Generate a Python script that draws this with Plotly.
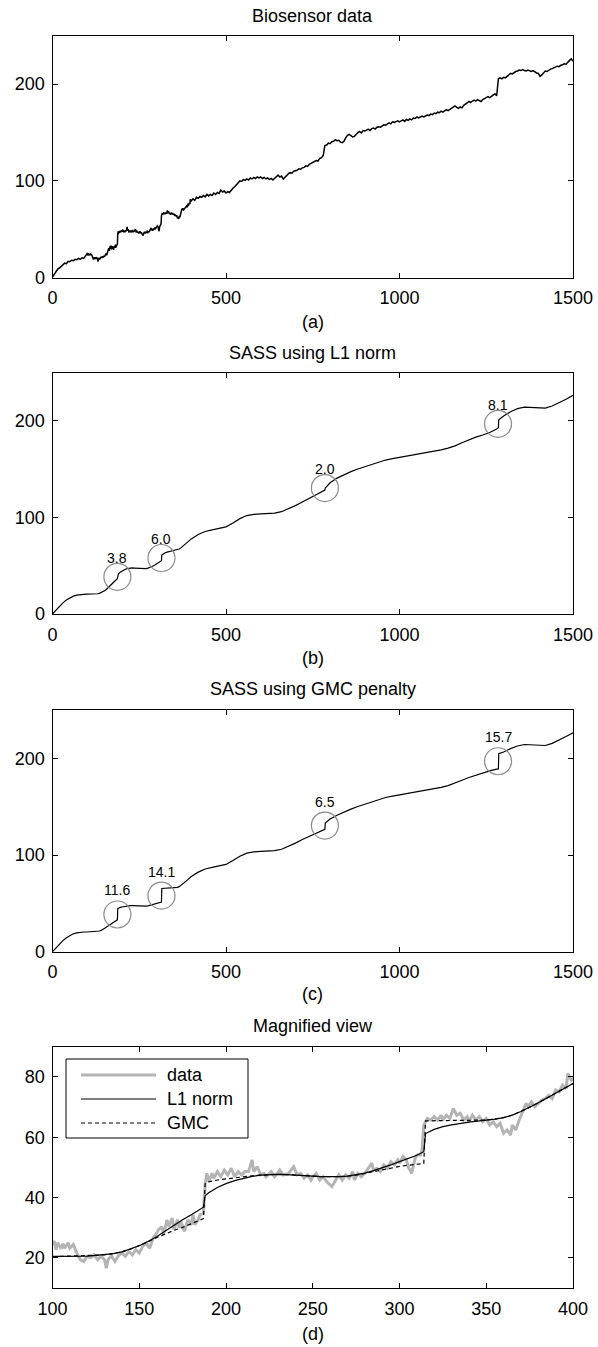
import plotly.graph_objects as go

# ------------------------------------------------------------------ data
# raw biosensor signal, x = 0..95 (step 5)
raw_head = [0.5, 3, 6, 9, 10, 12, 13.5, 15, 14.5, 17,
            16.5, 18, 17.5, 19, 18.5, 20, 19, 20.5, 20, 22]

# raw signal in the magnified range 100..400
raw_mid_x = [100, 101, 102, 103, 105, 106, 107, 109, 110, 112,
             114, 116, 118, 120, 122, 124, 126, 128, 130, 131,
             132, 134, 136, 138, 140, 142, 144, 146, 148, 150,
             152, 154, 156, 158, 160, 161, 163, 164, 166, 167,
             169, 170, 172, 173, 174, 176, 178, 180, 181, 182,
             184, 185, 187, 188, 189, 190, 192, 193, 195, 197,
             199, 201, 203, 205, 207, 209, 211, 213, 215, 216,
             218, 220, 222, 223, 226, 228, 231, 233, 236, 239,
             241, 243, 245, 247, 249, 250, 252, 254, 256, 258,
             261, 263, 265, 267, 269, 271, 273, 274, 276, 278,
             280, 282, 284, 285, 287, 289, 291, 293, 295, 297,
             299, 300, 302, 304, 305, 307, 309, 310, 312, 313,
             314, 316, 318, 320, 322, 324, 325, 327, 329, 331,
             333, 335, 337, 339, 340, 342, 344, 346, 348, 350,
             352, 354, 356, 358, 360, 362, 364, 365, 367, 369,
             371, 373, 374, 376, 378, 380, 382, 384, 386, 388,
             390, 392, 394, 396, 397, 399, 400]
raw_mid_y = [24.7, 25.5, 22.7, 25, 23, 24.7, 23.2, 25, 23.2, 24.4,
             21.6, 19.4, 18.8, 20.5, 20, 21, 19.4, 20.5, 19.4, 16.6,
             19.4, 20.7, 18.8, 20.7, 21.6, 20.5, 22.1, 21, 22.7, 21.6,
             23.8, 24.9, 23.2, 26.6, 28.2, 29.3, 30.4, 27.7, 32.6, 30.4,
             33.2, 29.3, 32.6, 29.9, 32, 28.8, 32.6, 31, 34.3, 31,
             32.6, 34.3, 34.8, 44.7, 48, 45.3, 48, 46.4, 48.6, 46.9,
             49.1, 47.5, 49.7, 46.9, 48.6, 47.5, 48.6, 48.6, 52.5, 48.6,
             50.2, 47.5, 48, 46.9, 48.6, 46.9, 49.1, 47.5, 48, 50.2,
             47.5, 48, 46.4, 47.5, 45.8, 46.9, 48, 45.8, 46.9, 45.3,
             43.6, 45.8, 47.5, 45.8, 47.5, 46.4, 48.6, 45.8, 48, 46.9,
             48, 49.7, 51.4, 49.1, 49.7, 48.6, 50.8, 49.7, 51.9, 50.8,
             52.5, 51.4, 53.6, 52.5, 50.2, 48, 53, 54.1, 54.1, 55.8,
             64, 66.2, 65.7, 66.8, 65.7, 67.3, 65.7, 67.3, 66.2, 69.5,
             67.3, 67.9, 65.7, 66.8, 65.1, 67.3, 65.7, 66.8, 65.1, 66.2,
             64, 65.1, 63.5, 64.6, 61.3, 62.4, 60.7, 64, 62.4, 65.7,
             68.4, 71.2, 70.1, 71.7, 70.1, 71.2, 72.3, 72.8, 73.9, 72.8,
             75.6, 75, 77.2, 76.1, 81.1, 78.9, 79.4]

# raw signal, x = 405..1500 (step 5)
raw_tail = [81.5, 80, 83, 82, 84, 83, 85, 83.5, 86, 84.5,
            86, 85, 87.5, 86, 88, 87, 90.5, 88.5, 89.5, 87.5,
            89, 88, 91, 92.5, 94, 96, 98.5, 100, 99.5, 101.5,
            100.5, 102, 101, 103, 102, 103.5, 102.5, 104, 103, 104,
            102.5, 103.5, 102, 103, 101.5, 102.5, 101, 103, 104.5, 106,
            104, 105, 102, 104, 106, 107.5, 108.5, 108, 110, 110.5,
            111, 112.5, 112, 113.5, 114, 115.5, 115, 117, 118, 118.5,
            120, 121, 120.5, 123, 124, 126, 136.5, 137, 139, 138.5,
            140.5, 141, 142.5, 141.5, 142, 140, 139.5, 141, 144.5, 147,
            148, 146.5, 145.5, 146, 148.5, 150, 151, 149.5, 152, 151.5,
            152.5, 153.5, 152, 154, 154.5, 153.5, 155.5, 156, 155.5, 157,
            158, 157.5, 159, 160, 159, 161, 160.5, 161.5, 162, 161,
            162.5, 163, 161.5, 163.5, 162.5, 164, 163, 165, 164.5, 166,
            165, 166.5, 167, 166, 167.5, 168, 167.5, 169, 168.5, 170,
            169.5, 171, 170.5, 172, 171, 172.5, 173.5, 172.5, 174, 174.5,
            176, 177.5, 176, 175, 176.5, 175.5, 178, 179, 180.5, 182,
            181, 182.5, 183.5, 182.5, 184, 183, 182, 184, 185, 186,
            187, 186, 187.5, 188.5, 190, 188, 205.5, 206.5, 205.5, 207,
            206.5, 208, 210, 211, 210.5, 212, 213, 213.5, 214.5, 214,
            215, 214, 213.5, 214.5, 213.5, 213, 214, 212.5, 211.5, 211,
            208, 209.5, 212, 213.5, 213, 214.5, 215.5, 216, 217, 217.5,
            218.5, 218, 219.5, 220, 221, 220.5, 223, 224.5, 226, 223.5]

data_x = (list(range(0, 5 * len(raw_head), 5)) + raw_mid_x
          + list(range(405, 405 + 5 * len(raw_tail), 5)))
data_y = raw_head + raw_mid_y + raw_tail

# SASS estimates (L1 norm and GMC penalty)
fit_x = [0, 10, 20, 30, 40, 50, 60, 70, 80, 90,
         100, 105, 110, 115, 120, 125, 130, 135, 140, 145,
         150, 155, 160, 165, 170, 175, 180, 185, 187, 188,
         190, 195, 200, 205, 210, 215, 220, 225, 230, 235,
         240, 245, 250, 255, 260, 265, 270, 275, 280, 285,
         290, 295, 300, 305, 310, 314, 315, 320, 325, 330,
         335, 340, 345, 350, 355, 360, 365, 370, 375, 380,
         385, 390, 395, 400, 420, 440, 460, 480, 500, 520,
         540, 560, 580, 600, 620, 640, 660, 680, 700, 720,
         740, 760, 780, 785, 786, 800, 820, 840, 860, 880,
         900, 920, 940, 960, 980, 1000, 1020, 1040, 1060, 1080,
         1100, 1120, 1140, 1160, 1180, 1200, 1220, 1240, 1260, 1280,
         1285, 1286, 1300, 1320, 1340, 1360, 1380, 1400, 1420, 1440,
         1460, 1480, 1500]
l1_y = [0, 4, 8, 11.5, 14.5, 16.8, 18.5, 19.5, 20.1, 20.4,
        20.5, 20.5, 20.6, 20.6, 20.6, 20.8, 21, 21.4, 22, 22.9,
        24, 25.4, 27, 28.9, 30.8, 32.6, 34.3, 36, 36.8, 40.6,
        41.6, 43.3, 44.6, 45.6, 46.4, 47, 47.4, 47.6, 47.7, 47.6,
        47.5, 47.3, 47.1, 46.9, 46.8, 46.9, 47.1, 47.5, 48.1, 48.9,
        49.8, 50.8, 51.9, 52.9, 54, 55.2, 61.2, 62.6, 63.5, 64.1,
        64.6, 65, 65.3, 65.6, 66, 66.5, 67.3, 68.5, 69.9, 71.4,
        73, 74.6, 76.2, 77.8, 82.3, 85.5, 87.2, 88.5, 90.3, 94.3,
        98.8, 102, 103.3, 103.7, 103.9, 104.5, 106, 108.8, 112.3, 116,
        119.7, 123.4, 127.2, 128.4, 130.4, 136, 140.8, 144.4, 147.5, 150.2,
        152.7, 155.2, 157.5, 159.5, 161, 162.2, 163.4, 164.6, 165.8, 167.1,
        168.5, 170, 171.8, 174.2, 177.5, 180.5, 183.2, 185.5, 188, 191.6,
        193, 201.1, 205.2, 209.6, 212.8, 214.3, 214, 213, 213.3, 215.5,
        218.8, 222.5, 226.5]
gmc_y = [0, 4, 8, 11.5, 14.5, 16.8, 18.5, 19.5, 20.1, 20.4,
         20.4, 20.5, 20.5, 20.6, 20.6, 20.8, 21, 21.4, 22, 22.9,
         24, 25.3, 26.7, 28, 29.1, 30.1, 31.2, 32.5, 33, 44.6,
         45.2, 45.8, 46.2, 46.6, 47, 47.2, 47.4, 47.6, 47.7, 47.6,
         47.5, 47.3, 47.1, 46.9, 46.8, 46.9, 47.1, 47.4, 48, 48.6,
         49.2, 49.8, 50.3, 50.7, 51, 51.3, 65.4, 65.5, 65.5, 65.6,
         65.6, 65.6, 65.6, 65.7, 66, 66.5, 67.3, 68.5, 69.9, 71.4,
         73, 74.6, 76.2, 77.8, 82.3, 85.5, 87.2, 88.5, 90.3, 94.3,
         98.8, 102, 103.3, 103.7, 103.9, 104.5, 106, 108.8, 112.3, 116,
         119.4, 122.6, 125.8, 126.6, 133.1, 137.3, 141.2, 144.5, 147.5, 150.2,
         152.7, 155.2, 157.5, 159.5, 161, 162.2, 163.4, 164.6, 165.8, 167.1,
         168.5, 170, 171.8, 174.2, 177.3, 180.2, 182.7, 184.9, 187, 188.8,
         189.1, 204.8, 206.6, 210, 212.8, 214.3, 214, 213, 213.3, 215.5,
         218.8, 222.5, 226.5]

# detected jumps (circled) and their sizes
jump_x = [187, 314, 785, 1284]
jump_y = [38.5, 58, 130.5, 197]
l1_jump = [3.8, 6.0, 2.0, 8.1]
gmc_jump = [11.6, 14.1, 6.5, 15.7]

titles = ["Biosensor data", "SASS using L1 norm", "SASS using GMC penalty", "Magnified view"]
sublabels = ["(a)", "(b)", "(c)", "(d)"]
legend_names = ["data", "L1 norm", "GMC"]

# ------------------------------------------------------------------ layout constants
W, H = 598, 1347
FONT = "Liberation Sans, Arial, Helvetica, sans-serif"
X0, X1 = 52.5, 573.0
boxes = [(35.7, 277.7), (372.7, 614.0), (710.0, 951.7), (1046.7, 1288.0)]
title_y = [16, 353, 689, 1026]
sub_y = [322, 658, 994, 1334]
GRAY = "#b4b4b4"
CIRC = "#8a8a8a"
TICK_SIZE = 18
TEXT_SIZE = 18


def px_y(p):
    return (H - p) / H


def px_x(p):
    return p / W


fig = go.Figure()

# (a) raw data
fig.add_trace(go.Scatter(x=data_x, y=data_y, mode="lines",
                         line=dict(color="black", width=1.5),
                         xaxis="x", yaxis="y", showlegend=False))
# (b) L1
fig.add_trace(go.Scatter(x=fit_x, y=l1_y, mode="lines",
                         line=dict(color="black", width=1.2),
                         xaxis="x2", yaxis="y2", showlegend=False))
fig.add_trace(go.Scatter(x=jump_x, y=jump_y, mode="markers",
                         marker=dict(symbol="circle-open", size=27,
                                     line=dict(color=CIRC, width=1.2), color=CIRC),
                         xaxis="x2", yaxis="y2", showlegend=False, cliponaxis=False))
# (c) GMC
fig.add_trace(go.Scatter(x=fit_x, y=gmc_y, mode="lines",
                         line=dict(color="black", width=1.2),
                         xaxis="x3", yaxis="y3", showlegend=False))
fig.add_trace(go.Scatter(x=jump_x, y=jump_y, mode="markers",
                         marker=dict(symbol="circle-open", size=27,
                                     line=dict(color=CIRC, width=1.2), color=CIRC),
                         xaxis="x3", yaxis="y3", showlegend=False, cliponaxis=False))
# (d) magnified
fig.add_trace(go.Scatter(x=data_x, y=data_y, mode="lines",
                         line=dict(color=GRAY, width=3),
                         xaxis="x4", yaxis="y4", showlegend=False))
fig.add_trace(go.Scatter(x=fit_x, y=l1_y, mode="lines",
                         line=dict(color="black", width=1.2),
                         xaxis="x4", yaxis="y4", showlegend=False))
fig.add_trace(go.Scatter(x=fit_x, y=gmc_y, mode="lines",
                         line=dict(color="black", width=1.2, dash="4px,3px"),
                         xaxis="x4", yaxis="y4", showlegend=False))


def axis(domain, rng, tickvals, standoff):
    return dict(domain=domain, range=rng, tickvals=tickvals, automargin=False,
                showline=True, linecolor="black", linewidth=1, mirror="ticks",
                ticks="inside", ticklen=5, tickwidth=1, tickcolor="black",
                showgrid=False, zeroline=False, ticklabelstandoff=standoff,
                tickfont=dict(family=FONT, size=TICK_SIZE, color="black"))


xdom = [px_x(X0), px_x(X1)]
layout = dict(template="none", width=W, height=H, autosize=False,
              margin=dict(l=0, r=0, t=0, b=0, pad=0),
              paper_bgcolor="white", plot_bgcolor="white", hovermode=False,
              font=dict(family=FONT, color="black"), showlegend=False)
for i, (top, bot) in enumerate(boxes):
    s = "" if i == 0 else str(i + 1)
    ydom = [px_y(bot), px_y(top)]
    if i < 3:
        layout["xaxis" + s] = axis(xdom, [0, 1500], [0, 500, 1000, 1500], 4)
        layout["yaxis" + s] = axis(ydom, [0, 250], [0, 100, 200], 3)
    else:
        layout["xaxis" + s] = axis(xdom, [100, 400], [100, 150, 200, 250, 300, 350, 400], 4)
        layout["yaxis" + s] = axis(ydom, [10, 90], [20, 40, 60, 80], 3)
    layout["xaxis" + s]["anchor"] = "y" + s
    layout["yaxis" + s]["anchor"] = "x" + s
fig.update_layout(**layout)

ann = []
xc = px_x((X0 + X1) / 2)
for t, ty, sl, sy in zip(titles, title_y, sublabels, sub_y):
    ann.append(dict(text=t, x=xc, y=px_y(ty), xref="paper", yref="paper",
                    xanchor="center", yanchor="middle", showarrow=False,
                    font=dict(family=FONT, size=TEXT_SIZE, color="black")))
    ann.append(dict(text=sl, x=xc, y=px_y(sy), xref="paper", yref="paper",
                    xanchor="center", yanchor="middle", showarrow=False,
                    font=dict(family=FONT, size=TEXT_SIZE, color="black")))
for jx, jy, a, b in zip(jump_x, jump_y, l1_jump, gmc_jump):
    ann.append(dict(text=f"{a:.1f}", x=jx, y=jy, xref="x2", yref="y2", yshift=19,
                    showarrow=False, font=dict(family=FONT, size=14, color="black")))
    ann.append(dict(text=f"{b:.1f}", x=jx, y=jy, xref="x3", yref="y3", yshift=24,
                    showarrow=False, font=dict(family=FONT, size=14, color="black")))

# legend of panel (d)
shapes = [dict(type="rect", xref="paper", yref="paper",
               x0=px_x(66), x1=px_x(248), y0=px_y(1138), y1=px_y(1059),
               line=dict(color="black", width=1), fillcolor="white", layer="above")]
leg_y = [1075, 1099, 1123]
leg_style = [dict(color=GRAY, width=3), dict(color="black", width=1.2),
             dict(color="black", width=1.2, dash="4px,3px")]
for name, ly, st in zip(legend_names, leg_y, leg_style):
    shapes.append(dict(type="line", xref="paper", yref="paper",
                       x0=px_x(81), x1=px_x(156), y0=px_y(ly), y1=px_y(ly),
                       line=st, layer="above"))
    ann.append(dict(text=name, x=px_x(165), y=px_y(ly), xref="paper", yref="paper",
                    xanchor="left", yanchor="middle", showarrow=False,
                    font=dict(family=FONT, size=TEXT_SIZE, color="black")))

fig.update_layout(annotations=ann, shapes=shapes)
fig.write_html("out.html", config={"displayModeBar": False, "staticPlot": True},
               post_script="document.body.style.margin='0';document.body.style.overflow='hidden';")
